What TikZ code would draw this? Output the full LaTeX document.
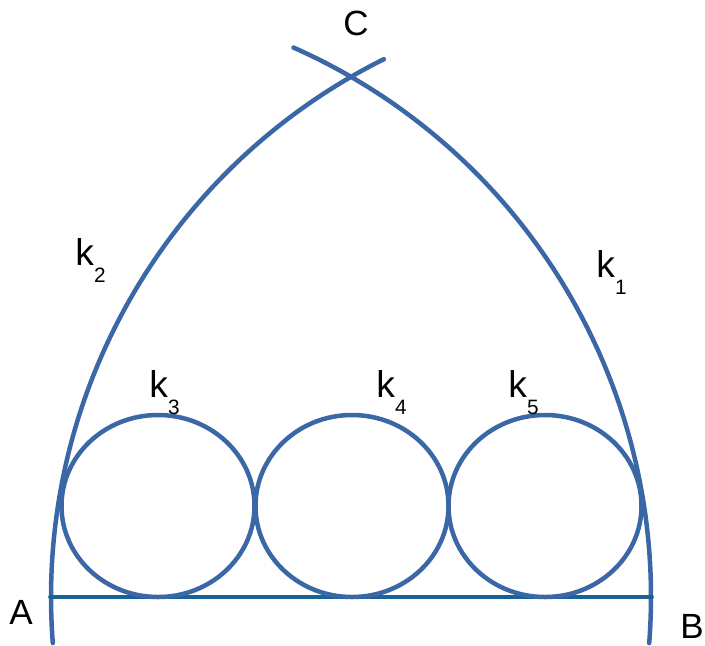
\documentclass[tikz,border=0pt]{standalone}
\usepackage{fontspec}
\setmainfont{Liberation Sans}
\usetikzlibrary{calc,positioning}

\definecolor{arcblue}{RGB}{59,103,166}
\definecolor{baseblue}{RGB}{24,98,150}

\newcommand{\ksub}[1]{k\raisebox{-8.5pt}{\fontsize{10.4pt}{11pt}\selectfont #1}}

\begin{document}
\begin{tikzpicture}[
    x=0.5pt, y=0.5pt,
    line cap=round,
    line join=round,
    arcline/.style={draw=arcblue, line width=2.25pt},
    circ/.style={draw=arcblue, line width=2.25pt},
    base/.style={draw=baseblue, line width=1.8pt},
    pt/.style={inner sep=0pt, font=\fontsize{17.5pt}{20pt}\selectfont},
    klbl/.style={inner sep=0pt, anchor=base west, font=\fontsize{18.6pt}{20pt}\selectfont}
]
\useasboundingbox (0,0) rectangle (705,645);

% ------------------------
% Base points
% ------------------------
\coordinate (A) at (50,48);
\coordinate (B) at (652,48);

% ------------------------
% Arcs k1 (centre A) and k2 (centre B)
% ------------------------
\draw[arcline] ($(A)+(-4.4:601)$) arc[start angle=-4.4, end angle=66.1, radius=601];
\draw[arcline] ($(B)+(184.4:601)$) arc[start angle=184.4, end angle=116.5, radius=601];

% ------------------------
% Base line AB
% ------------------------
\draw[base] (A) -- (B);

% ------------------------
% Inner circles k3, k4, k5
% ------------------------
\coordinate (c3) at (158,139);
\coordinate (c4) at (352,139);
\coordinate (c5) at (545,139);
\draw[circ] (c3) ellipse[x radius=96.5, y radius=91];
\draw[circ] (c4) ellipse[x radius=96.5, y radius=91];
\draw[circ] (c5) ellipse[x radius=96.5, y radius=91];

% ------------------------
% Labels
% ------------------------
\node[pt] (lA) at (21,33) {A};
\node[pt] (lB) at (692,19) {B};
\node[pt] (lC) at (356,622) {C};

\node[klbl] (k1) at (596,368) {\ksub{1}};
\node[klbl] (k2) at (75,380) {\ksub{2}};
\node[klbl] (k3) at (149,248) {\ksub{3}};
\node[klbl] (k4) at (376,248) {\ksub{4}};
\node[klbl] (k5) at (508,248) {\ksub{5}};

\end{tikzpicture}
\end{document}
